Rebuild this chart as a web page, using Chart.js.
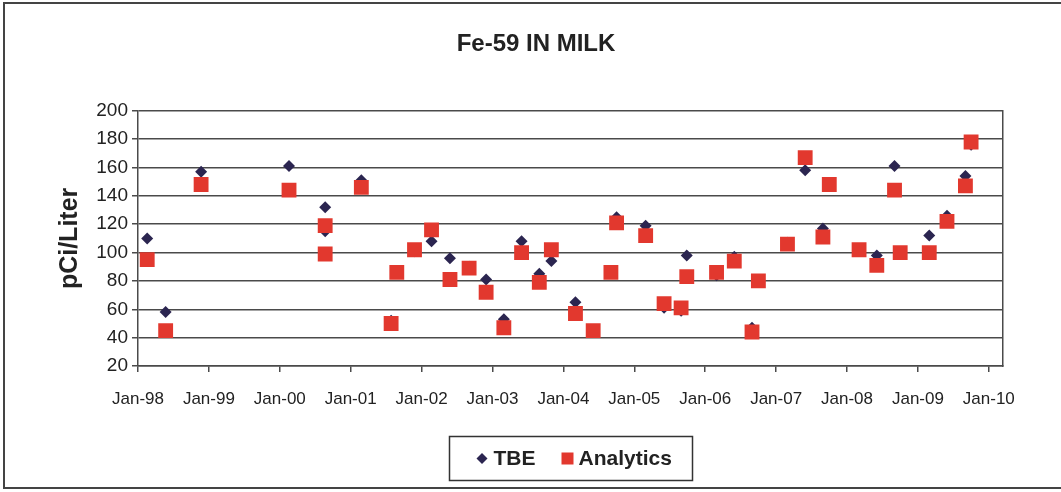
<!DOCTYPE html>
<html>
<head>
<meta charset="utf-8">
<script src="https://cdn.jsdelivr.net/npm/chart.js@4/dist/chart.umd.min.js"></script>
<style>
html, body { margin: 0; padding: 0; background: #fff; }
#wrap { width: 1061px; height: 492px; }
</style>
</head>
<body>
<div id="wrap"><canvas id="graficoFe59"></canvas></div>
<script>
// sample dates as decimal years
const sampleDates = [
    1998.13, 1998.39, 1998.89,
    2000.13, 2000.64, 2000.64,
    2001.15, 2001.57, 2001.65, 2001.90,
    2002.14, 2002.40, 2002.67, 2002.91,
    2003.16, 2003.41, 2003.66, 2003.83,
    2004.17, 2004.42, 2004.67, 2004.75,
    2005.16, 2005.42, 2005.66, 2005.74,
    2006.16, 2006.41, 2006.66, 2006.75,
    2007.16, 2007.41, 2007.66, 2007.75,
    2008.17, 2008.42, 2008.67, 2008.75,
    2009.16, 2009.41, 2009.67, 2009.75
];
const tbeValues = [
    110, 58, 157,
    161, 132, 115,
    151, 52, 86, 101,
    108, 96, 90, 81,
    53, 108, 85, 94,
    65, 45, 87, 125,
    119, 61, 59, 98,
    84, 97, 47, 80,
    107, 158, 117, 149,
    102, 98, 161, 100,
    112, 126, 154, 176
];
const analyticsValues = [
    95, 45, 148,
    144, 119, 99,
    146, 50, 86, 102,
    116, 81, 89, 72,
    47, 100, 79, 102,
    57, 45, 86, 121,
    112, 64, 61, 83,
    86, 94, 44, 80,
    106, 167, 111, 148,
    102, 91, 144, 100,
    100, 122, 147, 178
];
const yearTicks = [1998, 1999, 2000, 2001, 2002, 2003, 2004, 2005, 2006, 2007, 2008, 2009, 2010];

const FONT = "'Liberation Sans', Arial, sans-serif";
const NAVY = '#2b2550';
const RED = '#e2382e';

const pts = (vals) => sampleDates.map((d, i) => ({ x: d, y: vals[i] }));

// outer frame
const framePlugin = {
    id: 'frame',
    beforeDraw(chart) {
        const c = chart.ctx;
        c.save();
        c.strokeStyle = '#444';
        c.lineWidth = 2;
        c.strokeRect(4, 3, chart.width + 10, 485);
        c.restore();
    }
};

// Excel style legend box under the axis
const legendBox = {
    id: 'legendBox',
    afterDraw(chart) {
        const c = chart.ctx;
        const a = chart.chartArea;
        const w = 243, h = 44;
        const left = Math.round((a.left + a.right) / 2 - w / 2) + 0.5;
        const top = 436.5;
        const cy = top + h / 2;
        c.save();
        c.strokeStyle = '#333';
        c.lineWidth = 1.5;
        c.strokeRect(left, top, w, h);

        // TBE diamond
        c.fillStyle = NAVY;
        c.beginPath();
        c.moveTo(left + 27, cy);
        c.lineTo(left + 32.5, cy - 5.5);
        c.lineTo(left + 38, cy);
        c.lineTo(left + 32.5, cy + 5.5);
        c.closePath();
        c.fill();

        c.font = 'bold 21px ' + FONT;
        c.fillStyle = '#222';
        c.textBaseline = 'middle';
        c.fillText('TBE', left + 44, cy + 1);

        // Analytics square
        c.fillStyle = RED;
        c.fillRect(left + 112, cy - 6, 12, 12);
        c.fillStyle = '#222';
        c.fillText('Analytics', left + 129, cy + 1);
        c.restore();
    }
};

const ctx = document.getElementById('graficoFe59');

new Chart(ctx, {
    type: 'scatter',
    data: {
        datasets: [
            {
                label: 'TBE',
                data: pts(tbeValues),
                pointStyle: 'rectRot',
                pointRadius: 6,
                pointHoverRadius: 6,
                backgroundColor: NAVY,
                borderColor: NAVY,
                borderWidth: 0,
                order: 1
            },
            {
                label: 'Analytics',
                data: pts(analyticsValues),
                pointStyle: 'rect',
                pointRadius: 10.5,
                pointHoverRadius: 10.5,
                backgroundColor: RED,
                borderColor: RED,
                borderWidth: 0,
                order: 0
            }
        ]
    },
    options: {
        responsive: true,
        maintainAspectRatio: false,
        animation: false,
        layout: { padding: { left: 11, right: 0, top: 0, bottom: 0 } },
        plugins: {
            legend: { display: false },
            tooltip: { enabled: false },
            title: {
                display: true,
                text: 'Fe-59 IN MILK',
                color: '#222',
                font: { family: FONT, size: 24, weight: 'bold' },
                padding: { top: 30, bottom: 52 }
            }
        },
        scales: {
            x: {
                type: 'linear',
                min: 1998,
                max: 2010.2,
                afterBuildTicks(scale) {
                    scale.ticks = yearTicks.map(v => ({ value: v }));
                },
                afterFit(scale) { scale.height = 126; },
                ticks: {
                    color: '#222',
                    font: { family: FONT, size: 17 },
                    padding: 17,
                    maxRotation: 0,
                    autoSkip: false,
                    callback: (v) => 'Jan-' + String(v % 100).padStart(2, '0')
                },
                grid: { drawOnChartArea: false, drawTicks: true, tickLength: 6, color: '#4a4a4a', lineWidth: 1.5 },
                border: { display: true, color: '#4a4a4a', width: 1.5 }
            },
            y: {
                min: 20,
                max: 200,
                afterFit(scale) { scale.width = 127; },
                ticks: {
                    stepSize: 20,
                    color: '#222',
                    font: { family: FONT, size: 19 },
                    padding: 4
                },
                grid: { color: '#4a4a4a', lineWidth: 1.5, tickLength: 6 },
                border: { display: true, color: '#4a4a4a', width: 1.5 },
                title: {
                    display: true,
                    text: 'pCi/Liter',
                    color: '#222',
                    font: { family: FONT, size: 25, weight: 'bold' },
                    padding: { top: 44, bottom: 0 }
                }
            },
            y2: {
                position: 'right',
                min: 20,
                max: 200,
                afterFit(scale) { scale.width = 58; },
                ticks: { display: false },
                grid: { drawOnChartArea: false, drawTicks: false },
                border: { display: true, color: '#4a4a4a', width: 1.5 }
            }
        }
    },
    plugins: [framePlugin, legendBox]
});
</script>
</body>
</html>
